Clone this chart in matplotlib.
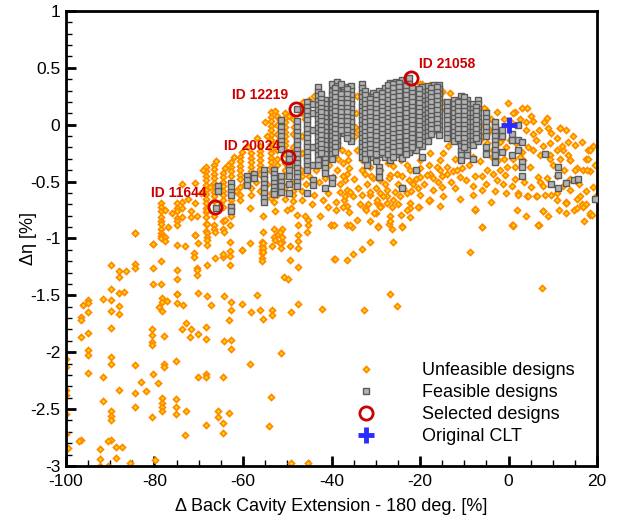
import matplotlib
matplotlib.use("Agg")
import matplotlib.pyplot as plt
from matplotlib.lines import Line2D

plt.rcParams['font.family'] = ['Liberation Sans', 'DejaVu Sans']

# ---------------- data ----------------
# Feasible designs: grouped by column (x value) -> list of Δη values
feas_col_x = [-66.2, -65.6, -62.8, -59.0, -57.5, -55.3, -53.1, -51.3, -49.6, -47.9,
              -45.5, -44.2, -43.0, -41.5, -40.0, -38.7, -37.2, -35.6, -33.2, -31.9,
              -30.6, -29.3, -28.0, -26.7, -25.4, -24.1, -22.4, -21.0, -19.6, -18.2,
              -16.8, -15.6, -13.8, -12.3, -10.8, -9.3, -8.0, -6.8, -5.2, -3.1,
              -1.5, 0.8, 2.2, 3.0, 8.3, 9.6, 11.2, 13.0, 14.7, 15.8, 19.6]
feas_col_y = [
    [-0.735],
    [-0.54, -0.58],
    [-0.51, -0.55, -0.59, -0.62, -0.72, -0.76],
    [-0.45, -0.49, -0.53],
    [-0.43, -0.47],
    [-0.40, -0.44, -0.48, -0.52, -0.56, -0.60, -0.64, -0.68],
    [-0.40, -0.43, -0.47, -0.51, -0.55, -0.58, -0.61],
    [0.04, -0.02, -0.06, -0.10, -0.14, -0.18, -0.21, -0.45, -0.50, -0.54, -0.59],
    [-0.25, -0.30, -0.35, -0.40, -0.45, -0.52, -0.60],
    [0.14, 0.03, -0.02, -0.06, -0.10, -0.14, -0.18, -0.22, -0.26, -0.30, -0.34, -0.38, -0.42, -0.46, -0.50, -0.54],
    [0.20, 0.16, 0.12, 0.08, 0.04, 0.0, -0.04, -0.08, -0.12, -0.16, -0.20, -0.24, -0.28, -0.32, -0.36, -0.40, -0.60],
    [0.18, 0.10, -0.05, -0.20, -0.35, -0.49, -0.53],
    [0.33, 0.29, 0.25, 0.21, 0.17, 0.13, 0.09, 0.05, 0.01, -0.03, -0.07, -0.11, -0.15, -0.19, -0.23, -0.27, -0.31, -0.35],
    [0.22, 0.18, 0.14, 0.10, 0.06, 0.02, -0.02, -0.06, -0.10, -0.14, -0.18, -0.22, -0.26, -0.30, -0.34, -0.38, -0.42, -0.56],
    [0.36, 0.30, 0.26, 0.22, 0.18, 0.14, 0.10, 0.06, 0.02, -0.02, -0.06, -0.10, -0.14, -0.18, -0.22, -0.26, -0.30, -0.47, -0.51],
    [0.38, 0.34, 0.30, 0.26, 0.22, 0.18, 0.14, 0.10, 0.06, 0.02, -0.02, -0.06, -0.10, -0.14, -0.18],
    [0.33, 0.29, 0.25, 0.21, 0.17, 0.13, 0.09, 0.05, 0.01, -0.03, -0.07],
    [0.34, 0.30, 0.26, 0.22, 0.18, 0.14, 0.10, 0.06, 0.02, -0.02, -0.06, -0.10, -0.14],
    [0.36, 0.32, 0.28, 0.24, 0.20, 0.16, 0.12, 0.08, 0.04, 0.0, -0.04, -0.08, -0.12, -0.16, -0.20, -0.24, -0.28],
    [0.25, 0.21, 0.17, 0.13, 0.09, 0.05, 0.01, -0.03, -0.07, -0.11, -0.15, -0.19, -0.23, -0.27, -0.31, -0.35],
    [0.28, 0.24, 0.20, 0.16, 0.12, 0.08, 0.04, 0.0, -0.04, -0.08, -0.12, -0.16, -0.20, -0.24, -0.28],
    [0.30, 0.26, 0.22, 0.18, 0.14, 0.10, 0.06, 0.02, -0.02, -0.06, -0.10, -0.14, -0.18, -0.22, -0.26, -0.37, -0.41, -0.46],
    [0.32, 0.28, 0.24, 0.20, 0.16, 0.12, 0.08, 0.04, 0.0, -0.04, -0.08, -0.12, -0.16, -0.20, -0.24, -0.28],
    [0.37, 0.33, 0.29, 0.25, 0.21, 0.17, 0.13, 0.09, 0.05, 0.01, -0.03, -0.07, -0.11, -0.15, -0.19, -0.23, -0.27, -0.31],
    [0.38, 0.34, 0.30, 0.26, 0.22, 0.18, 0.14, 0.10, 0.06, 0.02, -0.02, -0.06, -0.10, -0.14, -0.18, -0.22, -0.26],
    [0.39, 0.35, 0.31, 0.27, 0.23, 0.19, 0.15, 0.11, 0.07, 0.03, -0.01, -0.05, -0.09, -0.13, -0.17, -0.21, -0.25, -0.29, -0.56],
    [0.41, 0.36, 0.32, 0.28, 0.24, 0.20, 0.16, 0.12, 0.08, 0.04, 0.0, -0.04, -0.08, -0.12, -0.16, -0.20, -0.24],
    [0.30, 0.26, 0.22, 0.18, 0.14, 0.10, 0.06, 0.02, -0.02, -0.06, -0.10, -0.14, -0.18, -0.22, -0.40],
    [0.33, 0.29, 0.25, 0.21, 0.17, 0.13, 0.09, 0.05, 0.01, -0.03, -0.07, -0.11, -0.15, -0.19, -0.28],
    [0.34, 0.30, 0.26, 0.22, 0.18, 0.14, 0.10, 0.06, 0.02, -0.02, -0.06, -0.10, -0.14],
    [0.35, 0.31, 0.27, 0.23, 0.19, 0.15, 0.11, 0.07, 0.03, -0.01, -0.05],
    [0.35, 0.31, 0.27, 0.23, 0.19, 0.15, 0.11, 0.07, 0.03, -0.01, -0.05, -0.09],
    [0.20, 0.16, 0.12, 0.08, 0.04, 0.0, -0.04, -0.08, -0.12],
    [0.22, 0.18, 0.14, 0.10, 0.06, 0.02, -0.02, -0.06, -0.10, -0.14],
    [0.25, 0.21, 0.17, 0.13, 0.09, 0.05, 0.01, -0.03, -0.07, -0.11, -0.15, -0.19, -0.23, -0.27, -0.31],
    [0.22, 0.18, 0.14, 0.10, 0.06, 0.02, -0.02, -0.06, -0.10, -0.14, -0.18, -0.22, -0.27],
    [0.18, 0.14, 0.10, 0.06, 0.02, -0.02, -0.06, -0.10, -0.14, -0.18, -0.30],
    [0.22, 0.18, 0.14, 0.10, 0.06, 0.02, -0.02, -0.06, -0.10, -0.14],
    [0.10, 0.06, 0.02, -0.02, -0.06, -0.10, -0.20, -0.26],
    [0.02, -0.02, -0.06, -0.10, -0.14, -0.18, -0.22, -0.27, -0.33],
    [-0.10, -0.05, -0.24],
    [-0.08, -0.27, -0.13],
    [0.0, -0.22, -0.13],
    [-0.15, -0.33, -0.37, -0.45],
    [-0.26],
    [-0.52],
    [-0.37, -0.44, -0.56],
    [-0.51],
    [-0.49],
    [-0.48],
    [-0.65],
]

# Feasible designs: additional interleaved columns in the dense core
feas_core_x = [-42.3, -39.3, -37.9, -36.4, -32.5, -31.2, -30.0, -28.6, -27.3, -26.0,
               -24.7, -23.2, -21.7, -20.3, -17.5, -16.2, -11.5, -10.0, -7.4]
feas_core_y = [
    [0.27, 0.23, 0.19, 0.15, 0.11, 0.07, 0.03, -0.01, -0.05, -0.09, -0.13, -0.17, -0.21, -0.25],
    [0.32, 0.28, 0.24, 0.20, 0.16, 0.12, 0.08, 0.04, 0.0, -0.04, -0.08, -0.12, -0.16, -0.20, -0.24],
    [0.36, 0.27, 0.23, 0.19, 0.15, 0.11, 0.07, 0.03, -0.01, -0.05],
    [0.31, 0.27, 0.23, 0.19, 0.15, 0.11, 0.07, 0.03, -0.01, -0.05, -0.09, -0.12],
    [0.30, 0.26, 0.22, 0.18, 0.14, 0.10, 0.06, 0.02, -0.02, -0.06, -0.10, -0.14, -0.18, -0.22, -0.26, -0.30],
    [0.23, 0.19, 0.15, 0.11, 0.07, 0.03, -0.01, -0.05, -0.09, -0.13, -0.17, -0.21, -0.25],
    [0.26, 0.22, 0.18, 0.14, 0.10, 0.06, 0.02, -0.02, -0.06, -0.10, -0.14, -0.18, -0.22, -0.26, -0.32],
    [0.28, 0.24, 0.20, 0.16, 0.12, 0.08, 0.04, 0.0, -0.04, -0.08, -0.12, -0.16, -0.20, -0.24],
    [0.35, 0.30, 0.26, 0.22, 0.18, 0.14, 0.10, 0.06, 0.02, -0.02, -0.06, -0.10, -0.14, -0.18, -0.22, -0.26],
    [0.36, 0.32, 0.28, 0.24, 0.20, 0.16, 0.12, 0.08, 0.04, 0.0, -0.04, -0.08, -0.12, -0.16, -0.20, -0.24, -0.28],
    [0.37, 0.33, 0.29, 0.25, 0.21, 0.17, 0.13, 0.09, 0.05, 0.01, -0.03, -0.07, -0.11, -0.15, -0.19, -0.23],
    [0.34, 0.30, 0.26, 0.22, 0.18, 0.14, 0.10, 0.06, 0.02, -0.02, -0.06, -0.10, -0.14, -0.18, -0.22, -0.26],
    [0.32, 0.28, 0.24, 0.20, 0.16, 0.12, 0.08, 0.04, 0.0, -0.04, -0.08, -0.12, -0.16, -0.20],
    [0.31, 0.27, 0.23, 0.19, 0.15, 0.11, 0.07, 0.03, -0.01, -0.05, -0.09, -0.13, -0.17],
    [0.32, 0.28, 0.24, 0.20, 0.16, 0.12, 0.08, 0.04, 0.0, -0.04, -0.08],
    [0.33, 0.29, 0.25, 0.21, 0.17, 0.13, 0.09, 0.05, 0.01, -0.03],
    [0.20, 0.16, 0.12, 0.08, 0.04, 0.0, -0.04, -0.08, -0.12],
    [0.24, 0.20, 0.16, 0.12, 0.08, 0.04, 0.0, -0.04, -0.08, -0.12, -0.16, -0.20],
    [0.16, 0.12, 0.08, 0.04, 0.0, -0.04, -0.08, -0.12],
]

# Unfeasible designs: dense columns on the left part of the front
unf_col_x = [-78.6, -77.6, -74.9, -73.7, -71.8, -70.8, -68.4, -66.6, -64.6, -62.8,
             -60.7, -58.3, -56.2, -53.7, -52.3, -50.6, -48.8, -46.7]
unf_col_y = [
    [-0.69, -0.72, -0.76, -0.81, -0.85, -0.87, -0.92, -0.95, -0.98, -1.00],
    [-0.75, -0.99, -1.02],
    [-0.69, -0.73, -0.76, -0.82, -0.85, -0.88],
    [-0.52, -0.68, -0.73, -0.81],
    [-0.76, -0.81],
    [-0.51, -0.69, -0.97],
    [-0.37, -0.41, -0.45, -0.49, -0.53, -0.57, -0.61, -0.65, -0.69, -0.73, -0.77, -0.81, -0.87, -0.93],
    [-0.35, -0.39, -0.43, -0.47, -0.51, -0.55, -0.59, -0.63, -0.67, -0.80, -0.88],
    [-0.42, -0.46, -0.50, -0.54, -0.58, -0.62, -0.66, -0.72, -0.85],
    [-0.33, -0.37, -0.41, -0.45, -0.66, -0.70, -0.80],
    [-0.28, -0.32, -0.36, -0.40, -0.44, -0.48, -0.55, -0.62, -0.66],
    [-0.25, -0.29, -0.33, -0.37, -0.41, -0.56, -0.62],
    [-0.19, -0.23, -0.27, -0.31, -0.35, -0.39, -0.43, -0.58],
    [0.11, 0.07, 0.03, -0.01, -0.05, -0.09, -0.13, -0.17, -0.21, -0.25, -0.29, -0.33, -0.37, -0.41, -0.60, -0.64],
    [0.08, 0.0, -0.08, -0.15, -0.22, -0.30, -0.35, -0.62],
    [0.10, 0.06, 0.02, -0.02, -0.06, -0.10, -0.14, -0.18, -0.22, -0.26, -0.34, -0.40, -0.45, -0.55, -0.65],
    [0.05, -0.08, -0.20, -0.35, -0.58, -0.62, -0.67],
    [0.15, 0.10, -0.10, -0.25, -0.45, -0.58, -0.66],
]

# Unfeasible designs: scattered points, lower-left region
unf_left_pts = [
    (-84.4, -0.955), (-80.3, -1.05), (-75.0, -1.06), (-73.1, -1.07), (-70.9, -0.97),
    (-68.2, -0.955), (-68.2, -0.99), (-68.2, -1.01), (-68.2, -1.06), (-66.5, -0.92),
    (-64.5, -0.92), (-70.2, -1.04), (-89.8, -1.23), (-88.0, -1.29), (-88.0, -1.34),
    (-86.4, -1.29), (-84.4, -1.22), (-84.4, -1.26), (-80.3, -1.26), (-78.6, -1.20),
    (-78.6, -1.40), (-75.0, -1.28), (-75.0, -1.36), (-71.0, -1.13), (-66.3, -1.17),
    (-64.5, -1.16), (-64.5, -1.14), (-62.9, -1.11), (-62.9, -1.15), (-62.9, -1.03),
    (-62.9, -1.23), (-68.2, -1.23), (-70.5, -1.32), (-70.5, -1.26), (-70.5, -1.28),
    (-60.3, -1.10), (-58.4, -1.04), (-55.6, -1.03), (-55.6, -1.07), (-55.6, -1.10),
    (-55.6, -1.13), (-55.6, -1.17), (-55.6, -1.20), (-53.1, -0.92), (-51.1, -0.92),
    (-53.1, -0.99), (-52.1, -0.96), (-51.1, -1.03), (-51.1, -0.99), (-49.4, -1.07),
    (-47.5, -1.08), (-49.4, -1.19), (-47.5, -1.25), (-47.5, -0.97), (-47.5, -1.02),
    (-50.7, -1.34), (-49.9, -1.36), (-39.4, -1.18), (-68.2, -0.75), (-68.2, -0.87),
    (-66.3, -0.94), (-64.4, -0.94), (-64.1, -0.84), (-62.9, -0.88), (-58.4, -0.73),
    (-55.4, -0.80), (-55.4, -0.94), (-53.1, -0.68), (-52.8, -0.76), (-49.2, -0.73),
    (-47.7, -0.79), (-47.5, -0.88), (-45.6, -0.94), (-45.2, -0.84), (-45.2, -0.88),
    (-40.2, -0.88), (-40.9, -0.72), (-96.1, -1.585), (-95.0, -1.54), (-95.0, -1.57),
    (-91.7, -1.53), (-89.8, -1.54), (-88.0, -1.48), (-86.9, -1.47), (-89.8, -1.44),
    (-95.0, -1.65), (-96.7, -1.69), (-96.7, -1.72), (-96.7, -1.87), (-95.0, -1.83),
    (-89.8, -1.64), (-88.0, -1.59), (-88.0, -1.66), (-89.8, -1.79), (-95.0, -1.98),
    (-95.0, -2.02), (-89.8, -2.04), (-89.8, -2.10), (-95.0, -2.18), (-100.0, -2.06),
    (-100.0, -2.13), (-100.0, -2.33), (-100.0, -2.38), (-91.7, -2.22), (-91.7, -2.43),
    (-89.8, -2.52), (-89.8, -2.56), (-89.8, -2.60), (-88.0, -2.33), (-100.0, -2.54),
    (-100.0, -2.72), (-96.7, -2.77), (-89.8, -2.77), (-84.4, -2.11), (-83.1, -2.26),
    (-81.9, -2.34), (-84.4, -2.36), (-84.4, -2.48), (-79.1, -2.27), (-80.3, -2.19),
    (-80.6, -1.80), (-80.6, -1.85), (-80.6, -1.91), (-80.6, -1.94), (-77.8, -1.86),
    (-78.4, -1.52), (-78.4, -1.56), (-78.4, -1.64), (-77.1, -1.55), (-78.9, -1.60),
    (-80.3, -1.40), (-75.0, -1.49), (-75.0, -1.57), (-73.6, -1.585), (-72.95, -1.74),
    (-73.7, -1.80), (-71.75, -1.80), (-72.0, -1.87), (-70.2, -1.84), (-68.4, -1.78),
    (-68.4, -1.88), (-68.2, -1.51), (-67.3, -1.585), (-64.2, -1.51), (-62.8, -1.56),
    (-62.8, -1.63), (-63.2, -1.72), (-64.2, -1.90), (-62.8, -1.89), (-62.8, -1.97),
    (-60.3, -1.58), (-58.3, -1.65), (-56.9, -1.50), (-56.2, -1.63), (-55.4, -1.71),
    (-53.5, -1.63), (-53.4, -1.67), (-49.2, -1.65), (-47.6, -1.58), (-42.2, -1.62),
    (-68.4, -2.19), (-68.4, -2.22), (-70.2, -2.22), (-64.5, -2.22), (-75.2, -2.08),
    (-77.9, -2.10), (-77.9, -2.13), (-58.4, -2.10), (-51.5, -2.01), (-78.4, -2.40),
    (-78.4, -2.45), (-78.4, -2.48), (-78.4, -2.52), (-75.1, -2.41), (-75.1, -2.48),
    (-75.1, -2.54), (-72.95, -2.52), (-80.5, -2.57), (-65.6, -2.52), (-65.6, -2.57),
    (-64.5, -2.62), (-63.2, -2.53), (-64.6, -2.71), (-68.4, -2.64), (-73.1, -2.73),
    (-54.1, -2.65), (-53.7, -2.39), (-45.2, -2.97), (-97.0, -2.78), (-92.3, -2.85),
    (-90.6, -2.78), (-88.8, -2.83), (-87.4, -2.83), (-92.3, -2.94), (-88.8, -2.93),
    (-85.5, -2.97), (-79.9, -2.95), (-49.2, -2.97), (-99.5, -2.84), (-92.3, -3.0),
    (-90.6, -3.0), (-84.5, -0.955), (-80.4, -1.05), (-71.1, -1.16), (-70.2, -1.48),
    (-74.9, -1.49), (-55.4, -1.04), (-55.4, -1.08), (-55.4, -1.12), (-53.5, -1.07),
    (-52.8, -1.01), (-51.6, -1.04), (-51.3, -1.08), (-51.6, -0.94), (-60.3, -1.10),
]

# Unfeasible designs: scattered points, middle and right region
unf_right_pts = [
    (-37.1, -0.66), (-36.4, -0.71), (-32.4, -0.73), (-31.8, -0.70), (-29.8, -0.69),
    (-28.8, -0.71), (-26.3, -0.72), (-22.3, -0.69), (-22.3, -0.735), (-20.2, -0.72),
    (-17.9, -0.67), (-15.5, -0.71), (-30.0, -0.78), (-26.7, -0.80), (-24.2, -0.79),
    (-26.9, -0.87), (-26.4, -0.92), (-24.1, -0.89), (-29.4, -0.89), (-36.4, -0.88),
    (-35.4, -0.90), (-40.1, -0.88), (-31.3, -1.03), (-26.1, -1.03), (-33.1, -1.09),
    (-35.2, -1.14), (-39.3, -1.18), (-36.5, -1.19), (-7.6, -0.75), (-6.1, -0.90),
    (0.9, -0.89), (6.8, -0.88), (7.7, -0.76), (13.1, -0.685), (14.8, -0.75),
    (16.5, -0.70), (18.4, -0.79), (-8.8, -1.12), (7.6, -1.435), (-26.7, -1.485),
    (-25.3, -1.59), (-32.6, -1.63),
    (6.3, -0.13), (7.9, -0.19), (9.4, -0.16), (10.9, -0.12), (12.4, -0.22),
    (13.9, -0.31), (15.4, -0.38), (16.9, -0.40), (18.4, -0.41), (17.6, -0.30),
    (13.5, -0.27), (11.6, -0.30), (9.4, -0.27), (7.1, -0.27), (5.6, -0.22),
    (4.8, -0.37), (6.7, -0.46), (7.9, -0.54), (9.7, -0.62), (12.4, -0.54),
    (13.9, -0.57), (16.1, -0.63), (18.4, -0.78), (17.6, -0.70), (15.4, -0.73),
    (13.1, -0.68), (10.9, -0.66), (8.2, -0.62), (6.3, -0.63), (4.1, -0.63),
    (2.2, -0.60), (0.7, -0.54), (-1.2, -0.52), (-2.7, -0.49), (-3.4, -0.43),
    (-4.9, -0.40), (-6.5, -0.32), (-8.0, -0.28), (-9.5, -0.22), (-10.6, -0.19),
    (-8.7, -0.105), (-6.5, -0.13), (-4.9, -0.16), (-3.4, -0.22), (-2.3, -0.31),
    (-0.4, -0.37), (1.5, -0.37), (3.3, -0.31), (3.0, -0.24), (1.8, -0.16),
    (0.3, -0.13), (-1.6, -0.13), (-2.7, -0.075), (-4.2, -0.05), (-5.7, 0.0),
    (-7.2, 0.04), (-8.7, 0.085), (-10.2, 0.13), (-11.4, 0.16), (-12.5, 0.19),
    (-6.1, -0.57), (-8.0, -0.54), (-9.5, -0.49), (-11.0, -0.46), (-12.5, -0.41),
    (-14.0, -0.37), (-15.5, -0.40), (-17.8, -0.43), (-20.0, -0.46), (-21.5, -0.52),
    (-23.0, -0.60), (-24.5, -0.63), (-26.0, -0.66), (-27.5, -0.69), (-29.0, -0.72),
    (-30.5, -0.78), (-32.1, -0.75), (-33.6, -0.70), (-35.1, -0.63), (-36.6, -0.57),
    (-38.1, -0.52), (-39.6, -0.46), (-37.3, -0.72), (-35.8, -0.88), (-34.3, -0.84),
    (-31.3, -0.85), (-29.4, -0.90), (-26.8, -0.85), (-24.1, -0.90), (-22.3, -0.81),
    (-20.4, -0.72), (-17.8, -0.66), (-14.7, -0.63), (-12.1, -0.56), (-7.6, -0.75),
    (-6.1, -0.90), (0.7, -0.88), (6.7, -0.88), (-39.4, -0.88), (-36.9, -0.63),
    (-31.3, -0.62), (-27.5, -0.63), (-23.0, -0.75), (-17.9, -0.66),
    (-13.2, 0.28), (-9.8, 0.22), (-7.2, 0.20), (-5.0, 0.13), (-2.7, 0.115),
    (-0.1, 0.19), (1.5, 0.115), (3.0, 0.145), (4.1, 0.145), (5.6, 0.03),
    (8.6, 0.06), (9.0, -0.03), (9.7, -0.075), (11.6, -0.03), (13.1, -0.05),
    (15.0, -0.18), (18.0, -0.22), (19.2, -0.19),
    (18.4, -0.22), (18.8, -0.79), (18.0, -0.30), (15.4, -0.65), (16.8, -0.72),
    (13.1, -0.69), (13.0, -0.78), (7.7, -0.76), (6.7, -0.88), (0.9, -0.88),
    (-7.6, -0.74), (2.2, -0.62), (4.5, -0.63), (6.4, -0.63), (7.1, -0.50),
    (8.8, -0.47), (9.4, -0.30), (10.9, -0.22), (12.0, -0.19), (11.6, -0.03),
    (13.5, -0.15), (13.9, -0.31), (17.7, -0.40), (15.0, -0.40), (10.9, -0.60),
    (19.9, -0.62),
    (-39.6, -0.28), (-38.8, -0.40), (-37.3, -0.34), (-36.2, -0.25), (-36.2, -0.31),
    (-36.6, -0.43), (-37.0, -0.49), (-38.1, -0.59), (-35.8, -0.59), (-34.7, -0.02),
    (-34.7, -0.10), (-34.3, -0.22), (-32.4, -0.43), (-31.3, -0.37), (-30.6, -0.47),
    (-29.0, -0.49), (-26.8, -0.44), (-25.3, -0.43), (-24.2, -0.31), (-22.3, -0.40),
    (-22.6, -0.49), (-23.8, -0.56), (-25.7, -0.59), (-27.5, -0.57), (-28.3, -0.63),
    (-29.8, -0.66), (-31.3, -0.59), (-20.4, -0.56), (-18.5, -0.44), (-17.0, -0.47),
    (-16.2, -0.37), (-15.5, -0.31), (-14.7, -0.25), (-13.6, -0.19), (-12.9, -0.13),
    (-14.0, -0.43), (-11.7, -0.40), (-11.0, -0.31), (-10.2, -0.22), (-14.4, 0.13),
    (-14.0, 0.07), (-11.4, 0.12), (-9.5, 0.16), (-38.8, -0.16), (-37.7, -0.22),
    (-19.3, -0.13), (-17.8, -0.25), (-20.8, -0.22), (-29.8, -0.31), (-27.2, -0.34),
    (-33.2, -0.31), (-20.0, -0.31), (-17.8, 0.35), (-15.1, 0.29), (-19.5, 0.36),
    (-36.5, 0.30), (-34.3, 0.25), (-34.5, 0.10), (-33.9, -0.05), (-20.0, 0.36),
    (-18.5, 0.33), (-15.0, 0.30), (-14.5, 0.20), (-44.0, 0.25), (-46.5, 0.20),
    (-11.0, 0.20), (-10.5, 0.05), (-9.8, -0.05), (-8.5, -0.15), (-7.5, 0.10),
    (-6.0, -0.10), (-5.5, 0.15), (-4.5, -0.05), (-4.0, 0.05), (-3.8, -0.28),
    (-2.0, -0.15), (-1.0, 0.05), (-0.5, -0.20), (0.5, 0.02), (1.0, -0.30),
    (-0.8, -0.44), (2.5, -0.28), (4.0, -0.05), (4.5, -0.20), (5.0, 0.08),
]

# Unfeasible designs: extra points filling the dense band under the front
unf_band_pts = [
    (-45.0, -0.45), (-44.0, -0.62), (-43.5, -0.40), (-42.8, -0.50), (-42.0, -0.66),
    (-41.5, -0.47), (-40.8, -0.60), (-40.5, -0.35), (-39.0, -0.68), (-38.5, -0.30),
    (-37.5, -0.45), (-36.0, -0.38), (-35.0, -0.48), (-34.0, -0.56), (-33.0, -0.40),
    (-32.0, -0.52), (-31.0, -0.45), (-30.0, -0.56), (-29.0, -0.40), (-28.0, -0.52),
    (-27.0, -0.47), (-26.0, -0.36), (-25.0, -0.52), (-24.0, -0.45), (-23.0, -0.35),
    (-22.0, -0.58), (-21.0, -0.48), (-20.0, -0.38), (-19.0, -0.52), (-18.0, -0.35),
    (-17.0, -0.57), (-16.0, -0.50), (-15.0, -0.45), (-13.0, -0.50), (-12.0, -0.30),
    (-10.5, -0.38), (-9.0, -0.35), (-7.5, -0.45), (-6.0, -0.45), (-5.0, -0.52),
    (-3.0, -0.58), (-2.0, -0.40), (-1.0, -0.30), (-36.0, -0.77), (-33.0, -0.62),
    (-29.0, -0.60), (-25.0, -0.70), (-20.0, -0.62), (-15.0, -0.55), (-11.0, -0.65),
    (-8.0, -0.62), (-4.0, -0.68), (-39.0, -0.75), (-42.5, -0.80), (-44.5, -0.70),
    (-46.0, -0.80), (-47.0, -0.40), (-45.8, -0.52), (-49.0, -0.50), (-50.0, -0.75),
    (-52.0, -0.48), (-54.5, -0.52), (-57.0, -0.50), (-59.5, -0.52), (-61.5, -0.58),
    (-63.5, -0.35), (-65.5, -0.72), (-67.5, -0.55), (-69.5, -0.60), (-70.5, -0.80),
    (-72.5, -0.65), (-76.0, -0.78), (-77.0, -0.90),
    (-55.0, 0.02), (-54.5, -0.10), (-52.8, 0.12), (-51.8, 0.05), (-49.5, 0.08),
    (-48.5, -0.02), (-46.0, 0.05), (-45.0, 0.22), (-56.8, -0.12), (-58.8, -0.20),
    (-60.2, -0.24), (-62.0, -0.28), (-64.0, -0.38), (-66.0, -0.32), (-69.0, -0.40),
    (1.0, 0.10), (2.5, 0.05), (4.0, 0.02), (5.5, -0.08), (7.0, -0.05),
    (8.0, 0.02), (10.0, -0.35), (11.0, -0.45), (12.5, -0.40), (14.0, -0.48),
    (16.0, -0.52), (17.5, -0.58), (19.0, -0.55), (16.5, -0.15), (14.5, -0.10),
    (19.5, -0.35), (3.5, -0.50), (5.0, -0.55), (1.5, -0.48), (-0.5, -0.60),
    (2.0, -0.75), (9.0, -0.80), (11.5, -0.75), (17.0, -0.85), (4.0, -0.80),
]

# Selected designs and original
sel_ids = ['ID 21058', 'ID 12219', 'ID 20024', 'ID 11644']
sel_x = [-22.0, -48.0, -49.8, -66.3]
sel_y = [0.41, 0.138, -0.283, -0.723]
orig_x = [0.0]
orig_y = [0.0]

# ---------------- flatten ----------------
fx, fy = [], []
for cx, ys in zip(feas_col_x + feas_core_x, feas_col_y + feas_core_y):
    for yv in ys:
        fx.append(cx)
        fy.append(yv)
ux, uy = [], []
for cx, ys in zip(unf_col_x, unf_col_y):
    for yv in ys:
        ux.append(cx)
        uy.append(yv)
for px, py in unf_left_pts + unf_right_pts + unf_band_pts:
    ux.append(px)
    uy.append(py)

# ---------------- plot ----------------
fig = plt.figure(figsize=(6.19, 5.21), dpi=100)
ax = fig.add_axes([0.1066, 0.1056, 0.8579, 0.8733])

unf_style = dict(linestyle='none', marker='D', markersize=3.0,
                 markerfacecolor='#ffdc00', markeredgecolor='#ff8a00', markeredgewidth=1.3)
feas_style = dict(linestyle='none', marker='s', markersize=4.5,
                  markerfacecolor='#b4b4b4', markeredgecolor='#5a5a5a', markeredgewidth=1.0)
sel_style = dict(linestyle='none', marker='o', markersize=9.5,
                 markerfacecolor='none', markeredgecolor='#cc0000', markeredgewidth=2.0)
orig_style = dict(linestyle='none', marker='+', markersize=11,
                  color='#2b2bff', markeredgewidth=3.5)

ax.plot(ux, uy, zorder=2, **unf_style)
ax.plot(fx, fy, zorder=3, **feas_style)
ax.plot(sel_x, sel_y, zorder=4, **sel_style)
ax.plot(orig_x, orig_y, zorder=5, **orig_style)

label_pos = [(-20.2, 0.53), (-62.5, 0.26), (-64.3, -0.19), (-80.8, -0.60)]
for lab, (lx, ly) in zip(sel_ids, label_pos):
    ax.text(lx, ly, lab, color='#cc0000', fontsize=10, fontweight='bold',
            ha='left', va='center', zorder=6)

ax.set_xlim(-100, 20)
ax.set_ylim(-3, 1)
ax.set_xticks([-100, -80, -60, -40, -20, 0, 20])
ax.set_xticklabels(['-100', '-80', '-60', '-40', '-20', '0', '20'])
ax.set_yticks([-3, -2.5, -2, -1.5, -1, -0.5, 0, 0.5, 1])
ax.set_yticklabels(['-3', '-2.5', '-2', '-1.5', '-1', '-0.5', '0', '0.5', '1'])
ax.set_xticks([v for v in range(-95, 20, 5) if v % 20 != 0], minor=True)
ax.set_yticks([-3 + 0.1 * i for i in range(41) if i % 5 != 0], minor=True)
ax.tick_params(which='major', direction='in', length=7, width=2, labelsize=12.5,
               top=False, right=False)
ax.tick_params(axis='x', which='major', pad=6)
ax.tick_params(axis='y', which='major', pad=4)
ax.tick_params(which='minor', direction='in', length=4, width=1, top=False, right=False)
for s in ax.spines.values():
    s.set_linewidth(2)

ax.set_xlabel('\u0394 Back Cavity Extension - 180 deg. [%]', fontsize=13, labelpad=6)
ax.set_ylabel('\u0394\u03b7 [%]', fontsize=13, labelpad=-5)

handles = [Line2D([], [], **unf_style), Line2D([], [], **feas_style),
           Line2D([], [], **sel_style), Line2D([], [], **orig_style)]
labels = ['Unfeasible designs', 'Feasible designs', 'Selected designs', 'Original CLT']
ax.legend(handles, labels, loc='lower left', bbox_to_anchor=(0.518, 0.03),
          frameon=False, fontsize=13, labelspacing=0.28, handlelength=2.0,
          handletextpad=2.1, borderaxespad=0)

fig.savefig('out.png', dpi=100)
